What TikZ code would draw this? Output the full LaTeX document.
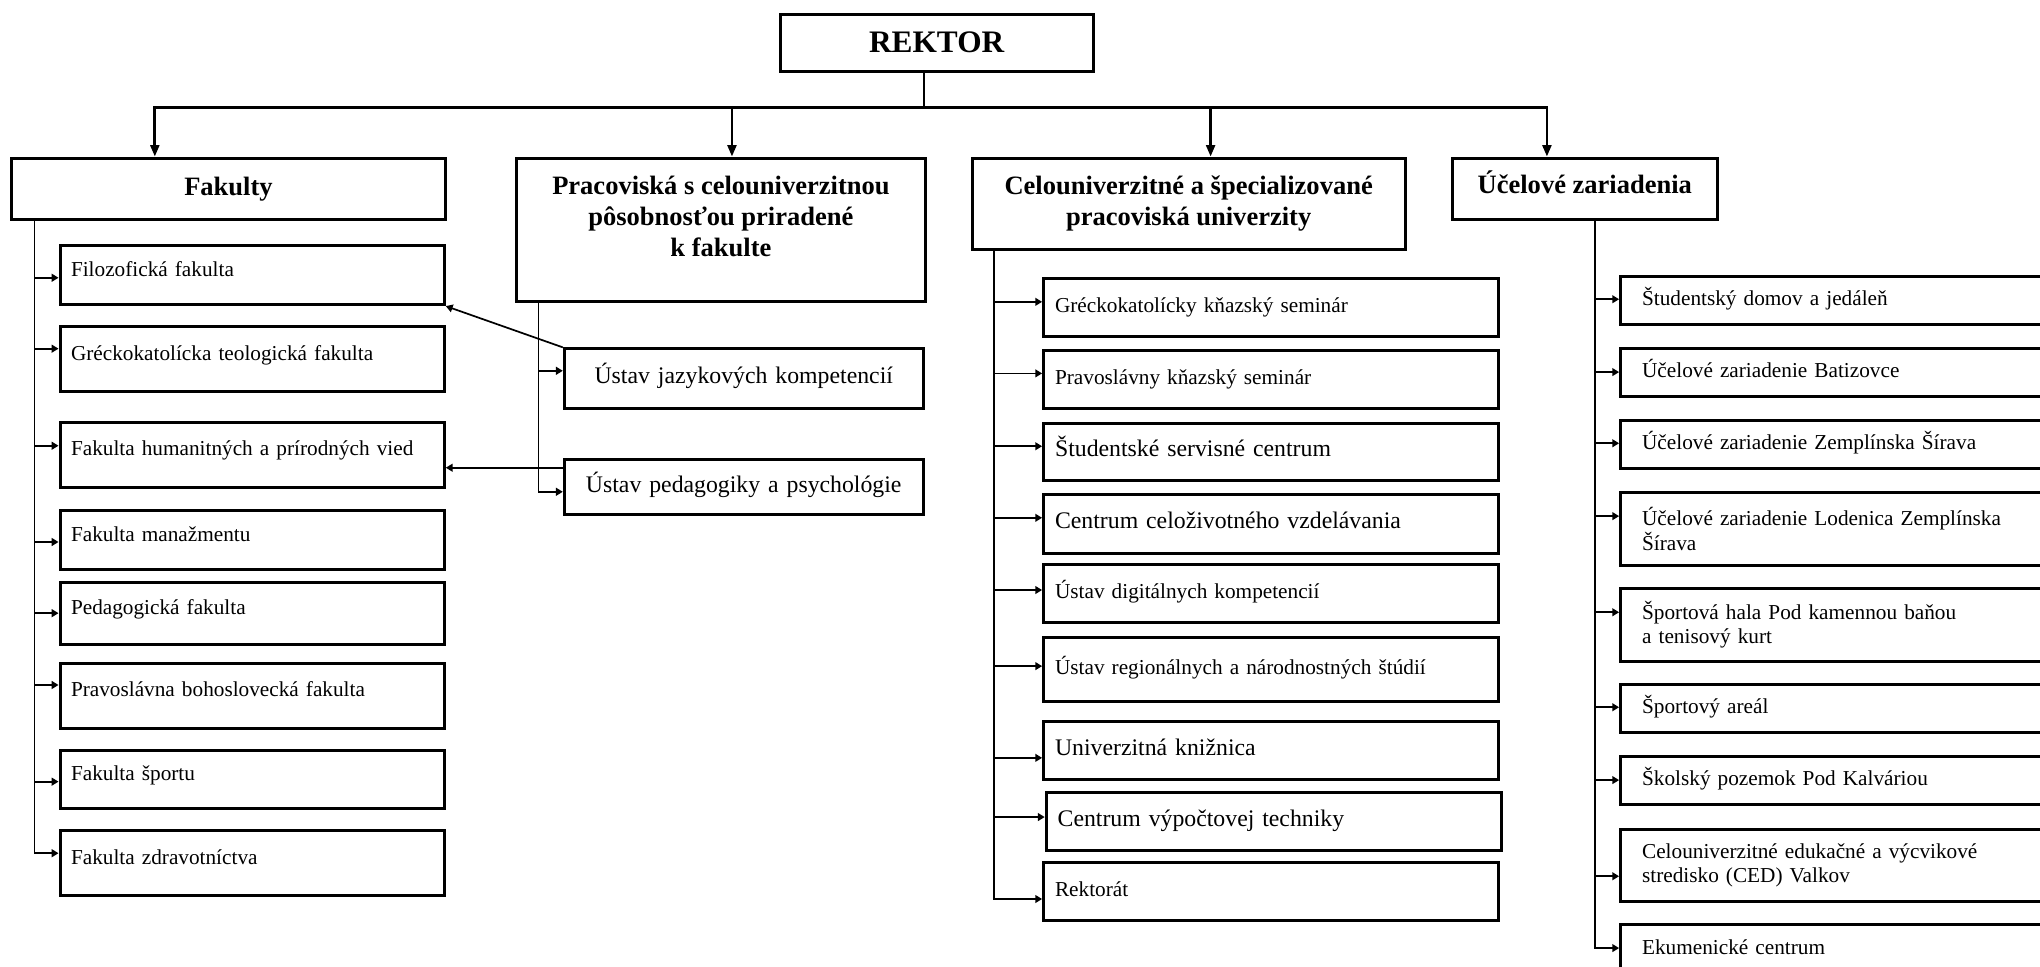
\documentclass[tikz,border=0pt]{standalone}
\usepackage{fontspec}
\setmainfont{Liberation Serif}
\usetikzlibrary{arrows.meta}
\begin{document}
\begin{tikzpicture}[x=.02cm, y=-.02cm, >={Triangle[length=3pt,width=3.4pt]},
	box/.style={draw, line width=1.3pt, rectangle, anchor=north west},
	head/.style={box, align=center, font=\fontsize{11.6}{13.6}\selectfont\bfseries},
	unit/.style={box, align=left, inner xsep=5pt, text height=.7em, text depth=.25em, font=\fontsize{9.3}{10.6}\selectfont},
	unitii/.style={box, align=left, inner xsep=9.4pt, font=\fontsize{9.3}{10.6}\selectfont},
	lnk/.style={line width=.75pt},
	bus/.style={line width=1.2pt, line cap=rect},
	down/.style={line width=1.2pt, -{Triangle[length=5pt,width=3.8pt]}}]
	\clip (0,0) rectangle (1568,743);
	% top level
	\node[head, minimum width=4.81cm, minimum height=.88cm, font=\fontsize{13.7}{16}\selectfont\bfseries] (rektor) at (598.6,9.7) {REKTOR};
	\node[head, minimum width=6.68cm, minimum height=.94cm] (fak) at (7.5,120.4) {Fakulty};
	\node[head, minimum width=6.28cm, minimum height=2.2cm] (prac) at (396,120.4) {Pracoviská s celouniverzitnou\\ pôsobnosťou priradené\\ k fakulte\\[-6pt]\strut};
	\node[head, minimum width=6.66cm, minimum height=1.4cm] (celo) at (746,120.4) {Celouniverzitné a špecializované\\ pracoviská univerzity};
	\node[head, minimum width=4.08cm, minimum height=.94cm, text height=.68em, text depth=.22em] (ucel) at (1115,120.4) {Účelové zariadenia};
	\coordinate (stem) at (710,82.5);
	\coordinate (b1) at (119,82.5); \coordinate (b2) at (562.6,82.5);
	\coordinate (b3) at (930.5,82.5); \coordinate (b4) at (1189,82.5);
	\draw[lnk] (rektor.south -| stem) -- (stem);
	\draw[bus] (b1) -- (b4);
	\draw[down] (b1) -- (b1 |- fak.north);
	\draw[down] (b2) -- (b2 |- prac.north);
	\draw[down] (b3) -- (b3 |- celo.north);
	\draw[down] (b4) -- (b4 |- ucel.north);
	% fakulty
	\foreach \n/\y/\h/\a/\t in {ff/187.8/.904/213.5/Filozofická fakulta, fgt/250/1.0/268/Gréckokatolícka teologická fakulta,
		fhpv/323.6/.994/342.6/Fakulta humanitných a prírodných vied, fm/391.4/.898/416.6/Fakulta manažmentu,
		pf/446.6/.956/471.3/Pedagogická fakulta, pbf/508.6/1.0/526.5/Pravoslávna bohoslovecká fakulta,
		fs/575.7/.896/600.8/Fakulta športu, fz/637.3/.994/655.8/Fakulta zdravotníctva}{
		\node[unit, inner xsep=4.8pt, text depth=.6em, text width=158.5pt, minimum height=\h cm] (\n) at (45,\y) {\t};
		\coordinate (a\n) at (26.5,\a);
	}
	\foreach \n in {ff,fgt,fhpv,fm,pf,pbf,fs} \draw[lnk,->] (a\n) -- (\n.west |- a\n);
	\draw[lnk,->] (fak.south -| afz) -- (afz) -- (fz.west |- afz);
	% pracoviska pri fakulte
	\foreach \n/\y/\h/\a/\t in {ujk/267/.912/285/Ústav jazykových kompetencií, upp/351.8/.856/378/Ústav pedagogiky a psychológie}{
		\node[unit, align=center, text width=147pt, minimum height=\h cm, font=\fontsize{10.4}{12}\selectfont] (\n) at (432.6,\y) {\t};
		\coordinate (a\n) at (414,\a);
	}
	\draw[lnk,->] (aujk) -- (ujk.west |- aujk);
	\draw[lnk,->] (prac.south -| aupp) -- (aupp) -- (upp.west |- aupp);
	\coordinate (xh) at (0,359.5);
	\draw[lnk,->] (ujk.north west) -- (ff.south east);
	\draw[lnk,->] (upp.west |- xh) -- (fhpv.east |- xh);
	% celouniverzitne pracoviska
	\foreach \n/\x/\y/\h/\a/\f/\t in {gks/801/213/.89/232/9.3/Gréckokatolícky kňazský seminár, pks/801/268/.9/287/9.3/Pravoslávny kňazský seminár,
		ssc/801/324/.88/343/10.4/Študentské servisné centrum, ccv/801/379/.9/398/10.4/Centrum celoživotného vzdelávania,
		udk/801/433/.88/453.5/9.3/Ústav digitálnych kompetencií, urn/801/489/.98/512/9.3/Ústav regionálnych a národnostných štúdií,
		uk/801/553.5/.89/582.5/10.4/Univerzitná knižnica, cvt/803/608/.892/628/10.4/Centrum výpočtovej techniky,
		rek/801/662/.89/691/9.3/Rektorát}{
		\node[unit, text width=189pt, minimum height=\h cm, font=\fontsize{\f}{12}\selectfont] (\n) at (\x,\y) {\t};
		\coordinate (a\n) at (764,\a);
	}
	\foreach \n in {gks,pks,ssc,ccv,udk,urn,uk,cvt} \draw[lnk,->] (a\n) -- (\n.west |- a\n);
	\draw[lnk,->] (celo.south -| arek) -- (arek) -- (rek.west |- arek);
	% ucelove zariadenia
	\foreach \n/\y/\h/\a/\t in {sdj/211.5/.73/230/Študentský domov a jedáleň, uzb/267/.732/286/Účelové zariadenie Batizovce,
		uzz/322/.74/340.7/Účelové zariadenie Zemplínska Šírava, spa/525/.74/543.6/Športový areál,
		skp/580.5/.73/599.6/Školský pozemok Pod Kalváriou, ekc/709.7/.74/728.7/Ekumenické centrum}{
		\node[unit, inner xsep=9.4pt, text width=185pt, minimum height=\h cm] (\n) at (1244.5,\y) {\t};
		\coordinate (a\n) at (1226,\a);
	}
	\foreach \n/\y/\h/\a/\t in {uzl/377.5/1.12/396.7/Účelové zariadenie Lodenica Zemplínska\\Šírava,
		sph/451/1.12/470.6/Športová hala Pod kamennou baňou\\a tenisový kurt,
		ced/636.5/1.11/673.5/Celouniverzitné edukačné a výcvikové\\stredisko (CED) Valkov}{
		\node[unitii, text width=185pt, minimum height=\h cm] (\n) at (1244.5,\y) {\t};
		\coordinate (a\n) at (1226,\a);
	}
	\foreach \n in {sdj,uzb,uzz,uzl,sph,spa,skp,ced} \draw[lnk,->] (a\n) -- (\n.west |- a\n);
	\draw[lnk,->] (ucel.south -| aekc) -- (aekc) -- (ekc.west |- aekc);
\end{tikzpicture}
\end{document}
